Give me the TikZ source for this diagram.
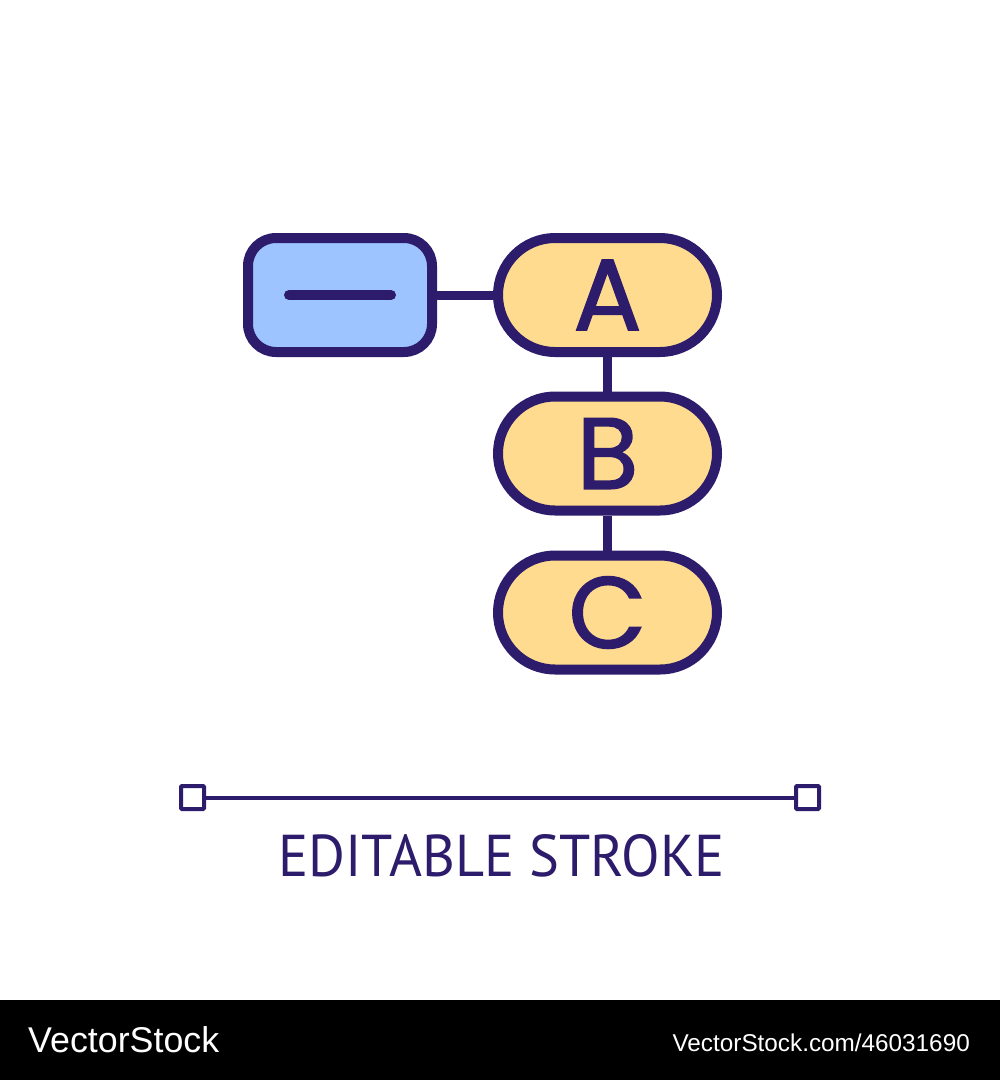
\documentclass[tikz,border=0pt]{standalone}
\usepackage{fontspec}
\setmainfont{Liberation Sans}
\newfontfamily\letterfont{Poppins}[FakeBold=1.6]
\newfontfamily\capfont{PT Sans}[FakeStretch=0.955]
\definecolor{ink}{HTML}{2D1B6B}
\definecolor{pillfill}{HTML}{FFDB8F}
\definecolor{boxfill}{HTML}{9EC4FF}
\begin{document}
\begin{tikzpicture}[x=1pt,y=-1pt,
  icon/.style={draw=ink,line width=10pt},
  pill/.style={icon,fill=pillfill,minimum width=219pt,minimum height=114pt,
    rounded corners=57pt,inner sep=0pt,text=ink,
    font=\letterfont\fontsize{101}{101}\selectfont},
  keybox/.style={icon,fill=boxfill,minimum width=184pt,minimum height=114pt,
    rounded corners=28pt,inner sep=0pt},
  link/.style={draw=ink,line width=9pt},
  handle/.style={draw=ink,line width=4pt,minimum size=23pt,inner sep=0pt,rounded corners=1pt},
  foot/.style={text=white,inner sep=0pt}]
\useasboundingbox (0,0) rectangle (1000,1080);
\fill[white] (0,0) rectangle (1000,1000);
% icon
\node[keybox] (key) at (340,295) {};
\node[pill] (A) at (607.5,295) {A};
\node[pill] (B) at (607.5,453.5) {B};
\node[pill] (C) at (607.5,612.5) {C};
\draw[ink,line width=10pt,line cap=round] ([xshift=-51pt]key.center) -- ([xshift=51pt]key.center);
\draw[link] (key.east) -- (A.west);
\draw[link] (A.south) -- (B.north);
\draw[link] (B.south) -- (C.north);
% editable stroke
\node[handle] (h1) at (192.5,797.5) {};
\node[handle] (h2) at (807.5,797.5) {};
\draw[ink,line width=4pt] (h1.east) -- (h2.west);
\node[anchor=base west,inner sep=0pt,text=ink,font=\capfont\fontsize{59}{59}\selectfont] (cap) at (278,876) {EDITABLE STROKE};
% footer
\fill[black] (0,1000) rectangle (1000,1080);
\node[foot,anchor=base west,font=\fontsize{35.8}{36}\selectfont] (brand) at (28,1052) {VectorStock};
\node[foot,anchor=base east,font=\fontsize{24.3}{25}\selectfont] (url) at (970,1051) {VectorStock.com/46031690};
\end{tikzpicture}
\end{document}
